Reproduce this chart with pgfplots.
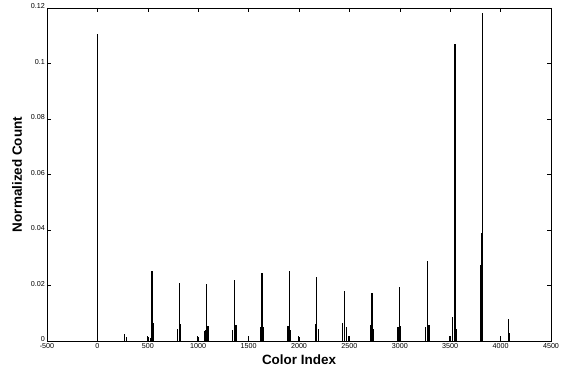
\documentclass[border=0pt]{standalone}
\usepackage{fontspec}
\setmainfont{Liberation Sans}
\usepackage{pgfplots}
\pgfplotsset{compat=1.18}
\begin{document}
\begin{tikzpicture}
\begin{axis}[
 scale only axis, width=504bp, height=333bp,
 xmin=-500, xmax=4500, ymin=0, ymax=0.12,
 xtick={-500,0,500,1000,1500,2000,2500,3000,3500,4000,4500},
 ytick={0,0.02,0.04,0.06,0.08,0.1,0.12},
 tick align=inside, major tick length=4bp,
 tick style={black, line width=0.5bp},
 axis line style={line width=0.8bp},
 ticklabel style={font=\fontsize{7.2}{8}\selectfont, inner sep=1.2bp},
 /pgf/number format/assume math mode=true,
 /pgf/number format/set thousands separator={},
 scaled y ticks=false,
 xticklabel style={yshift=-0.8bp},
 yticklabel style={/pgf/number format/fixed, /pgf/number format/precision=2, inner sep=2bp, yshift=1.6bp},
 xlabel={Color Index}, ylabel={Normalized Count},
 label style={font=\fontsize{13.5}{15}\selectfont\bfseries},
 xlabel style={at={([yshift=-19bp]axis description cs:0.5,0)}, anchor=center},
 ylabel style={at={([xshift=-30bp]axis description cs:0,0.5)}, anchor=center},
]
\addplot[ycomb, black, line width=1.2bp, mark=none] table {
x y
0 0.1105
266 0.0025
287 0.0016
495 0.0019
530 0.0012
540 0.0251
545 0.0251
556 0.0065
796 0.0045
814 0.0208
828 0.0060
997 0.0018
1068 0.0035
1075 0.0040
1086 0.0205
1098 0.0055
1104 0.0055
1344 0.0040
1361 0.0220
1375 0.0057
1497 0.0018
1620 0.0050
1633 0.0245
1647 0.0050
1886 0.0055
1893 0.0055
1905 0.0252
1918 0.0040
1998 0.0018
2160 0.0063
2173 0.0100
2177 0.0230
2192 0.0045
2435 0.0065
2453 0.0180
2468 0.0050
2496 0.0018
2710 0.0058
2725 0.0172
2740 0.0045
2982 0.0050
2995 0.0095
3000 0.0193
3010 0.0053
3255 0.0050
3272 0.0290
3290 0.0057
3498 0.0018
3525 0.0085
3542 0.1069
3547 0.1069
3560 0.0045
3800 0.0275
3806 0.0275
3812 0.0390
3817 0.1181
4000 0.0018
4075 0.0078
4088 0.0030
4092 0.0030
};
\end{axis}
\pgfresetboundingbox
\path ([shift={(-47bp,-28bp)}]current axis.south west) rectangle ([shift={(15bp,8bp)}]current axis.north east);
\end{tikzpicture}
\end{document}
